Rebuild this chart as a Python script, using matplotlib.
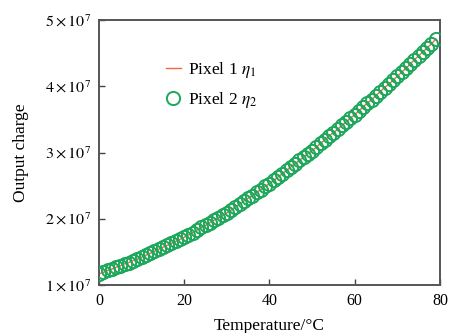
import numpy as np
import matplotlib
matplotlib.use('Agg')
import matplotlib.pyplot as plt
from matplotlib.ticker import FuncFormatter

'''
Output charge vs temperature for two pixels
'''

plt.rcParams['font.family'] = ['Liberation Serif', 'DejaVu Serif']
plt.rcParams['mathtext.fontset'] = 'stix'

# temperature in degC, charge in units of 1e7
temperature = list(range(0, 80))
charge = [1.17, 1.19, 1.22, 1.24, 1.27, 1.29, 1.32, 1.34, 1.37, 1.39,
          1.42, 1.45, 1.48, 1.51, 1.54, 1.57, 1.60, 1.63, 1.66, 1.69,
          1.72, 1.76, 1.79, 1.83, 1.87, 1.90, 1.94, 1.98, 2.01, 2.05,
          2.09, 2.13, 2.18, 2.22, 2.27, 2.31, 2.35, 2.40, 2.44, 2.49,
          2.53, 2.58, 2.63, 2.68, 2.73, 2.78, 2.83, 2.88, 2.93, 2.98,
          3.03, 3.08, 3.14, 3.19, 3.25, 3.30, 3.35, 3.41, 3.46, 3.52,
          3.57, 3.63, 3.69, 3.75, 3.80, 3.86, 3.92, 3.98, 4.03, 4.09,
          4.15, 4.21, 4.27, 4.33, 4.40, 4.46, 4.52, 4.58, 4.64, 4.71]

x_ticks = [0, 20, 40, 60, 80]
y_ticks = [1, 2, 3, 4, 5]

t = np.array(temperature)
q = np.array(charge) * 1e7

fig = plt.figure(figsize=(4.51, 3.33), dpi=100)
ax = fig.add_axes([0.2195, 0.144, 0.756, 0.796])

ax.plot(t, q, color='#f26a45', lw=1.0, label=r'Pixel 1 $\eta_{1}$', zorder=2)
ax.plot(t, q, ls='none', marker='o', ms=9.5, mfc='none', mec='#1ea65a', mew=1.4,
        label=r'Pixel 2 $\eta_{2}$', zorder=3)

ax.set_xlim(0, 80)
ax.set_ylim(1e7, 5e7)
ax.set_xticks(x_ticks)
ax.set_yticks([v * 1e7 for v in y_ticks])
ax.yaxis.set_major_formatter(FuncFormatter(lambda v, p: r'$%d\times10^{7}$' % round(v / 1e7)))

ax.tick_params(direction='in', length=4, width=1.0, color='#444444', labelsize=11.5, pad=6)
for s in ax.spines.values():
    s.set_color('#555555')
    s.set_linewidth(1.4)

ax.set_xlabel('Temperature/°C', fontsize=12.5, labelpad=6)
ax.set_ylabel('Output charge', fontsize=12.5, labelpad=11)

ax.legend(loc='upper left', bbox_to_anchor=(0.17, 0.88), frameon=False, fontsize=12.5,
          handlelength=0.9, handletextpad=0.4, labelspacing=0.55, borderpad=0)

fig.savefig('out.png', dpi=100)
